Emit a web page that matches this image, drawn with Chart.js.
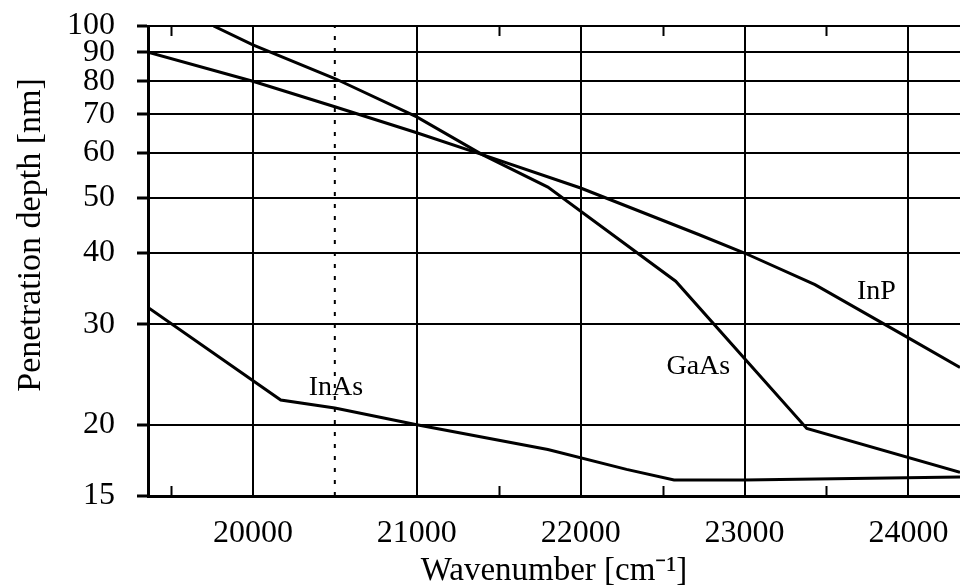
<!DOCTYPE html>
<html>
<head>
<meta charset="utf-8">
<script src="https://cdn.jsdelivr.net/npm/chart.js@4"></script>
<style>
  html, body { margin: 0; padding: 0; background: #fff; }
  canvas { display: block; }
</style>
</head>
<body>
<canvas id="c" width="960" height="586"></canvas>
<script>
// ---- data ----
const xTickValues = [20000, 21000, 22000, 23000, 24000];
const xMinorTickValues = [19500, 21500, 22500, 23500];
const yTickValues = [15, 20, 30, 40, 50, 60, 70, 80, 90, 100];
const xRange = [19360, 24315];
const yRange = [15, 100];

const inpWavenumber = [19360, 20000, 20500, 21000, 21400, 22000, 22720, 23000, 23430, 24000, 24315];
const inpDepth      = [90,    80,    72.2,  65,    59.5,  52,    43.1,  40,    35.2,  28.4,  25.2];

const gaasWavenumber = [19760, 20000, 20500, 21000, 21400, 21800, 22580, 23380, 24315];
const gaasDepth      = [100,   92.7,  80.9,  69.3,  59.5,  52.2,  35.7,  19.7,  16.5];

const inasWavenumber = [19360, 20170, 20500, 21000, 21800, 22280, 22570, 23000, 24315];
const inasDepth      = [32.1,  22.1,  21.4,  20,    18.1,  16.7,  16.0,  16.0,  16.2];

const markerWavenumber = 20500;

const seriesNames   = ['InAs', 'GaAs', 'InP'];
const nameAnchorX   = [20507, 22718, 23805];
const nameAnchorY   = [23.2, 25.3, 34.2];

const xTitle = 'Wavenumber [cm\u207B\u00B9]';
const yTitle = 'Penetration depth [nm]';

// ---- helpers ----
const pts = (xs, ys) => xs.map((x, i) => ({ x: x, y: ys[i] }));
const FONT = 'Liberation Serif, Times New Roman, serif';
const lineStyle = { borderColor: '#000', borderWidth: 3, pointRadius: 0, tension: 0, fill: false };

const extrasPlugin = {
  id: 'extras',
  afterDatasetsDraw(chart) {
    const ctx = chart.ctx;
    const xs = chart.scales.x, ys = chart.scales.y;
    const a = chart.chartArea;
    ctx.save();
    // inward minor ticks top & bottom
    ctx.strokeStyle = '#000';
    ctx.lineWidth = 2;
    xMinorTickValues.forEach(v => {
      const px = Math.round(xs.getPixelForValue(v)) + 0.5;
      ctx.beginPath();
      ctx.moveTo(px, a.bottom); ctx.lineTo(px, a.bottom - 10);
      ctx.moveTo(px, a.top); ctx.lineTo(px, a.top + 10);
      ctx.stroke();
    });
    // series names
    ctx.font = '28px ' + FONT;
    ctx.textAlign = 'center';
    ctx.textBaseline = 'middle';
    ctx.fillStyle = '#000';
    seriesNames.forEach((n, i) => {
      ctx.fillText(n, xs.getPixelForValue(nameAnchorX[i]), ys.getPixelForValue(nameAnchorY[i]));
    });
    // y-axis title (placed like the reference, slightly above the area centre)
    ctx.font = '34px ' + FONT;
    ctx.translate(31, (a.top + a.bottom) / 2 - 26);
    ctx.rotate(-Math.PI / 2);
    ctx.fillText(yTitle, 0, 0);
    ctx.restore();
  }
};

new Chart(document.getElementById('c'), {
  type: 'line',
  data: {
    datasets: [
      Object.assign({ label: 'InP', data: pts(inpWavenumber, inpDepth) }, lineStyle),
      Object.assign({ label: 'GaAs', data: pts(gaasWavenumber, gaasDepth) }, lineStyle),
      Object.assign({ label: 'InAs', data: pts(inasWavenumber, inasDepth) }, lineStyle),
      Object.assign({ label: 'marker', data: pts([markerWavenumber, markerWavenumber], yRange) },
        lineStyle, { borderWidth: 2, borderDash: [4, 8] })
    ]
  },
  options: {
    responsive: false,
    animation: false,
    devicePixelRatio: 1,
    layout: { padding: { left: 0, top: 26, right: 0, bottom: 0 } },
    plugins: { legend: { display: false }, tooltip: { enabled: false } },
    scales: {
      x: {
        type: 'linear',
        min: xRange[0], max: xRange[1],
        afterBuildTicks: s => { s.ticks = xTickValues.map(v => ({ value: v })); },
        afterFit: s => { s.height = 90; s.paddingLeft = 0; s.paddingRight = 0; },
        grid: { color: '#000', lineWidth: 2, drawTicks: false },
        border: { display: true, color: '#000', width: 3 },
        ticks: { autoSkip: false, maxRotation: 0, color: '#000', padding: 18,
                 font: { family: FONT, size: 32 }, callback: v => String(v) },
        title: { display: true, text: xTitle, color: '#000',
                 font: { family: FONT, size: 33, lineHeight: 0.9 }, padding: { top: 0, bottom: 0 } }
      },
      y: {
        type: 'logarithmic',
        min: yRange[0], max: yRange[1],
        afterBuildTicks: s => { s.ticks = yTickValues.map(v => ({ value: v })); },
        afterFit: s => { s.width = 148; s.paddingTop = 0; s.paddingBottom = 0; },
        grid: { color: '#000', lineWidth: 2, drawTicks: true, tickLength: 11, tickColor: '#000', tickWidth: 3 },
        border: { display: true, color: '#000', width: 3 },
        ticks: { autoSkip: false, color: '#000', padding: 22,
                 font: { family: FONT, size: 32 }, callback: v => String(v) },
        title: { display: false, text: yTitle }
      }
    }
  },
  plugins: [extrasPlugin]
});
</script>
</body>
</html>
